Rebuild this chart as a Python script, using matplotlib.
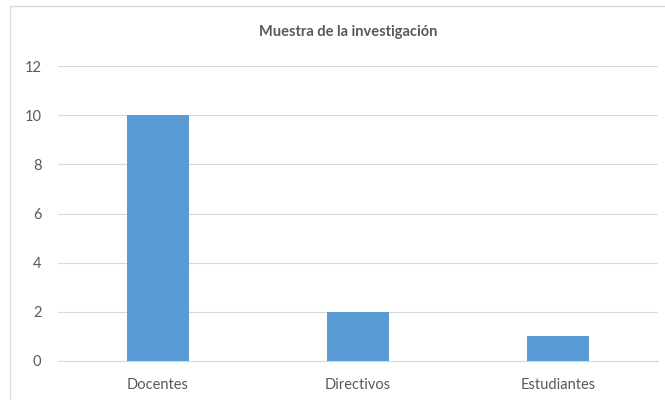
import matplotlib.pyplot as plt
from matplotlib.patches import Rectangle

plt.rcParams['font.family'] = ['Lato', 'DejaVu Sans']

categories = ['Docentes', 'Directivos', 'Estudiantes']
values = [10, 2, 1]
yticks = [0, 2, 4, 6, 8, 10, 12]

fig = plt.figure(figsize=(6.65, 4), dpi=100)
# chart frame, cut off at right and bottom like the screenshot
fig.patches.append(Rectangle((10 / 665, -0.1), 1.0, 1 - 6 / 400 + 0.1,
                             transform=fig.transFigure, fill=False,
                             edgecolor='#d9d9d9', linewidth=1))

ax = fig.add_axes([58 / 665, 1 - 361 / 400, 600 / 665, 295 / 400])
ax.bar(range(len(categories)), values, width=0.31, color='#5b9bd5', zorder=3)
ax.set_xlim(-0.5, len(categories) - 0.5)
ax.set_ylim(0, 12)
ax.set_yticks(yticks)
ax.set_xticks(range(len(categories)))
ax.set_xticklabels(categories)
ax.yaxis.grid(True, color='#d9d9d9', linewidth=0.8, zorder=0)
for s in ['top', 'right', 'left']:
    ax.spines[s].set_visible(False)
ax.spines['bottom'].set_color('#d9d9d9')
ax.tick_params(length=0, colors='#595959', labelsize=10.5)
ax.tick_params(axis='x', pad=12)
ax.tick_params(axis='y', pad=12)

fig.text(348 / 665, 1 - 32 / 400, 'Muestra de la investigación', ha='center', va='center',
         fontsize=10.5, fontweight='bold', color='#595959')

fig.savefig('out.png', dpi=100)
